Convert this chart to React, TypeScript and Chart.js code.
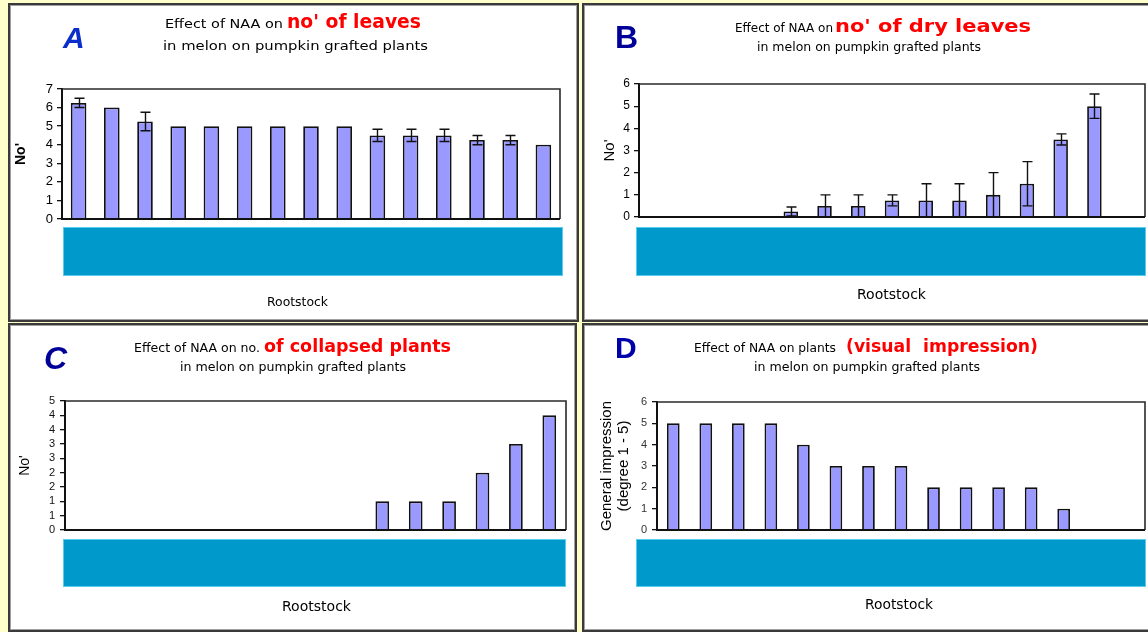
import React, { useEffect, useRef } from "react";
import { Chart, registerables } from "chart.js";

Chart.register(...registerables);

// Fifteen rootstock entries; their names sit under the cyan band and are not shown
const rootstocks = [
  "R1", "R2", "R3", "R4", "R5", "R6", "R7", "R8",
  "R9", "R10", "R11", "R12", "R13", "R14", "R15",
];

// A: number of leaves, mean and +/- error
const leavesMean = [6.25, 6, 5.25, 5, 5, 5, 5, 5, 5, 4.5, 4.5, 4.5, 4.25, 4.25, 4];
const leavesErr = [0.25, 0, 0.5, 0, 0, 0, 0, 0, 0, 0.33, 0.33, 0.33, 0.25, 0.25, 0];

// B: number of dry leaves, mean and +/- error
const dryLeavesMean = [0, 0, 0, 0, 0.25, 0.5, 0.5, 0.75, 0.75, 0.75, 1, 1.5, 3.5, 5, 0];
const dryLeavesErr = [0, 0, 0, 0, 0.2, 0.5, 0.5, 0.25, 0.75, 0.75, 1, 1, 0.25, 0.55, 0];

// C: number of collapsed plants
const collapsedPlants = [0, 0, 0, 0, 0, 0, 0, 0, 0, 1, 1, 1, 2, 3, 4];

// D: general visual impression (degree 1 - 5)
const visualImpression = [5, 5, 5, 5, 4, 3, 3, 3, 2, 2, 2, 2, 1, 0, 0];

// Y-axis ranges: [max, step]
const leavesAxis = [7, 1];
const dryLeavesAxis = [6, 1];
const collapsedAxis = [4.5, 0.5];
const impressionAxis = [6, 1];

type Box = { left: number; top: number; width: number; height: number };
type Area = { left: number; right: number; top: number; bottom: number };

type PanelSpec = {
  id: string;
  box: Box;
  plot: Area;
  values: number[];
  errors?: number[];
  axis: number[];
  yTitle: string | string[];
  yTitleSize: number;
  yTitleBold: boolean;
  yTitleLine: number;
  yTitleX: number;
  tickSize: number;
  tickPad: number;
  tickColor: string;
  roundTicks?: boolean;
  barPercentage: number;
  band: { dl: number; dr: number; gap: number; h: number };
};

const errorBars = {
  id: "errorBars",
  afterDatasetsDraw(chart: any, _args: any, opts: any) {
    const err: number[] | undefined = opts && opts.values;
    if (!err) return;
    const meta = chart.getDatasetMeta(0);
    const y = chart.scales.y;
    const data = chart.data.datasets[0].data as number[];
    const ctx = chart.ctx as CanvasRenderingContext2D;
    ctx.save();
    ctx.strokeStyle = "#111";
    ctx.lineWidth = 1.4;
    meta.data.forEach((bar: any, i: number) => {
      const e = err[i];
      if (!e) return;
      const x = Math.round(bar.x) + 0.5;
      const low = Math.max(0, data[i] - e);
      const top = y.getPixelForValue(data[i] + e);
      const bot = y.getPixelForValue(low);
      ctx.beginPath();
      ctx.moveTo(x, top);
      ctx.lineTo(x, bot);
      ctx.moveTo(x - 5, top);
      ctx.lineTo(x + 5, top);
      if (low > 0) {
        ctx.moveTo(x - 5, bot);
        ctx.lineTo(x + 5, bot);
      }
      ctx.stroke();
    });
    ctx.restore();
  },
};

const frameAndBand = {
  id: "frameAndBand",
  afterDraw(chart: any, _args: any, opts: any) {
    const { left, right, top, bottom } = chart.chartArea;
    const ctx = chart.ctx as CanvasRenderingContext2D;
    ctx.save();
    const bx = left + opts.dl;
    const bw = right + opts.dr - bx;
    const by = bottom + opts.gap;
    ctx.fillStyle = "#0099cc";
    ctx.fillRect(bx, by, bw, opts.h);
    ctx.strokeStyle = "#5ccbf0";
    ctx.lineWidth = 1;
    ctx.strokeRect(bx + 0.5, by + 0.5, bw - 1, opts.h - 1);
    ctx.strokeStyle = "#2a2a2a";
    ctx.lineWidth = 1.6;
    ctx.beginPath();
    ctx.moveTo(left, top);
    ctx.lineTo(right, top);
    ctx.lineTo(right, bottom);
    ctx.stroke();
    ctx.strokeStyle = "#111";
    ctx.lineWidth = 2;
    ctx.beginPath();
    ctx.moveTo(left - 1, bottom);
    ctx.lineTo(right, bottom);
    ctx.stroke();
    ctx.restore();
  },
};

const panels: PanelSpec[] = [
  {
    id: "A",
    box: { left: 8, top: 3, width: 571, height: 319 },
    plot: { left: 62, right: 560, top: 89, bottom: 219 },
    values: leavesMean,
    errors: leavesErr,
    axis: leavesAxis,
    yTitle: "No'",
    yTitleSize: 14,
    yTitleBold: true,
    yTitleLine: 1.2,
    yTitleX: 21,
    tickSize: 13,
    tickPad: 4,
    tickColor: "#000",
    barPercentage: 0.47,
    band: { dl: 1, dr: 3, gap: 8, h: 49 },
  },
  {
    id: "B",
    box: { left: 582, top: 3, width: 570, height: 319 },
    plot: { left: 639, right: 1145, top: 84, bottom: 217 },
    values: dryLeavesMean,
    errors: dryLeavesErr,
    axis: dryLeavesAxis,
    yTitle: "No'",
    yTitleSize: 15,
    yTitleBold: false,
    yTitleLine: 1.2,
    yTitleX: 610,
    tickSize: 12,
    tickPad: 4,
    tickColor: "#000",
    barPercentage: 0.43,
    band: { dl: -3, dr: 1, gap: 10, h: 49 },
  },
  {
    id: "C",
    box: { left: 8, top: 323, width: 569, height: 309 },
    plot: { left: 65, right: 566, top: 401, bottom: 530 },
    values: collapsedPlants,
    axis: collapsedAxis,
    yTitle: "No'",
    yTitleSize: 14,
    yTitleBold: false,
    yTitleLine: 1.2,
    yTitleX: 25,
    tickSize: 11,
    tickPad: 5,
    tickColor: "#111",
    roundTicks: true,
    barPercentage: 0.41,
    band: { dl: -2, dr: 0, gap: 9, h: 48 },
  },
  {
    id: "D",
    box: { left: 582, top: 323, width: 570, height: 309 },
    plot: { left: 657, right: 1145, top: 402, bottom: 530 },
    values: visualImpression,
    axis: impressionAxis,
    yTitle: ["General impression", "(degree 1 - 5)"],
    yTitleSize: 15,
    yTitleBold: false,
    yTitleLine: 1.1,
    yTitleX: 607,
    tickSize: 11,
    tickPad: 5,
    tickColor: "#333",
    barPercentage: 0.39,
    band: { dl: -21, dr: 1, gap: 9, h: 48 },
  },
];

function Panel({ spec }: { spec: PanelSpec }) {
  const ref = useRef<HTMLCanvasElement>(null);
  const innerW = spec.box.width - 4;
  const innerH = spec.box.height - 4;

  useEffect(() => {
    const ox = spec.box.left + 2;
    const oy = spec.box.top + 2;
    const areaL = spec.plot.left - ox;
    const areaR = spec.plot.right - ox;
    const areaT = spec.plot.top - oy;
    const areaB = spec.plot.bottom - oy;
    const halfLine = (spec.yTitleSize * spec.yTitleLine) / 2;
    const axisLeft = spec.yTitleX - ox - halfLine;
    const axisWidth = areaL - axisLeft;

    const chart = new Chart(ref.current as HTMLCanvasElement, {
      type: "bar",
      data: {
        labels: rootstocks,
        datasets: [
          {
            data: spec.values,
            backgroundColor: "#9999ff",
            borderColor: "#111",
            borderWidth: 1.8,
            barPercentage: spec.barPercentage,
            categoryPercentage: 1,
          },
        ],
      },
      options: {
        animation: false,
        responsive: true,
        maintainAspectRatio: false,
        events: [],
        layout: {
          padding: {
            left: axisLeft,
            right: innerW - areaR,
            top: areaT,
            bottom: innerH - areaB,
          },
        },
        plugins: {
          legend: { display: false },
          tooltip: { enabled: false },
          errorBars: { values: spec.errors },
          frameAndBand: spec.band,
        } as any,
        scales: {
          x: { display: false },
          y: {
            min: 0,
            max: spec.axis[0],
            afterFit: (s: any) => {
              s.width = axisWidth;
            },
            ticks: {
              stepSize: spec.axis[1],
              autoSkip: false,
              padding: spec.tickPad,
              color: spec.tickColor,
              font: { family: "'Liberation Sans', Arial, sans-serif", size: spec.tickSize },
              callback: (v: any) => (spec.roundTicks ? String(Math.round(Number(v))) : String(v)),
            },
            grid: {
              drawOnChartArea: false,
              drawTicks: true,
              tickLength: 5,
              color: "#111",
              lineWidth: 1.3,
            },
            border: { display: true, color: "#111", width: 2 },
            title: {
              display: true,
              text: spec.yTitle,
              color: "#000",
              padding: 0,
              font: {
                family: "'Liberation Sans', Arial, sans-serif",
                size: spec.yTitleSize,
                weight: spec.yTitleBold ? "bold" : "normal",
                lineHeight: spec.yTitleLine,
              },
            },
          },
        },
      },
      plugins: [errorBars, frameAndBand],
    });
    return () => chart.destroy();
  }, [spec, innerW, innerH]);

  return (
    <div
      style={{
        position: "absolute",
        left: spec.box.left,
        top: spec.box.top,
        width: spec.box.width,
        height: spec.box.height,
        boxSizing: "border-box",
        border: "2px solid #3a3a3a",
        boxShadow: "inset 0 0 0 1px #a0a0a0",
        background: "#ffffff",
      }}
    >
      <div style={{ position: "absolute", left: 0, top: 0, width: innerW, height: innerH }}>
        <canvas ref={ref} />
      </div>
    </div>
  );
}

type Label = {
  text: string;
  x: number;
  y: number;
  size: number;
  color: string;
  width?: number;
  bold?: boolean;
  italic?: boolean;
  family?: string;
};

const titleFont = "'DejaVu Sans', Verdana, sans-serif";
const red = "#ff0000";

const labels: Label[] = [
  // A
  { text: "A", x: 63, y: 48, size: 30, color: "#0a2ecc", bold: true, italic: true, family: "'Liberation Sans', Arial, sans-serif" },
  { text: "Effect of NAA on", x: 165, y: 28, size: 13, color: "#000", width: 118 },
  { text: "no' of leaves", x: 287, y: 28, size: 20, color: red, bold: true, width: 134 },
  { text: "in melon on pumpkin grafted plants", x: 163, y: 50, size: 13, color: "#000", width: 265 },
  { text: "Rootstock", x: 267, y: 306, size: 13, color: "#000", width: 61 },
  // B
  { text: "B", x: 615, y: 48, size: 32, color: "#000099", bold: true, family: "'Liberation Sans', Arial, sans-serif" },
  { text: "Effect of NAA on", x: 735, y: 32, size: 12, color: "#000", width: 98 },
  { text: "no' of dry leaves", x: 835, y: 32, size: 18, color: red, bold: true, width: 196 },
  { text: "in melon on pumpkin grafted plants", x: 757, y: 51, size: 12, color: "#000", width: 224 },
  { text: "Rootstock", x: 857, y: 299, size: 14, color: "#000", width: 69 },
  // C
  { text: "C", x: 44, y: 369, size: 32, color: "#000099", bold: true, italic: true, family: "'Liberation Sans', Arial, sans-serif" },
  { text: "Effect of NAA on no.", x: 134, y: 352, size: 12, color: "#000", width: 126 },
  { text: "of collapsed plants", x: 264, y: 352, size: 18, color: red, bold: true, width: 187 },
  { text: "in melon on pumpkin grafted plants", x: 180, y: 371, size: 12, color: "#000", width: 226 },
  { text: "Rootstock", x: 282, y: 611, size: 14, color: "#000", width: 69 },
  // D
  { text: "D", x: 615, y: 358, size: 30, color: "#0000aa", bold: true, family: "'Liberation Sans', Arial, sans-serif" },
  { text: "Effect of NAA on plants", x: 694, y: 352, size: 12, color: "#000", width: 142 },
  { text: "(visual  impression)", x: 846, y: 352, size: 18, color: red, bold: true, width: 192 },
  { text: "in melon on pumpkin grafted plants", x: 754, y: 371, size: 12, color: "#000", width: 226 },
  { text: "Rootstock", x: 865, y: 609, size: 14, color: "#000", width: 68 },
];

export default function App() {
  return (
    <div
      style={{
        position: "absolute",
        left: 0,
        top: 0,
        width: 1148,
        height: 632,
        overflow: "hidden",
        background: "#ffffcc",
      }}
    >
      {panels.map((p) => (
        <Panel key={p.id} spec={p} />
      ))}
      <svg
        width={1148}
        height={632}
        style={{ position: "absolute", left: 0, top: 0, pointerEvents: "none" }}
      >
        {labels.map((l, i) => (
          <text
            key={i}
            x={l.x}
            y={l.y}
            fill={l.color}
            fontFamily={l.family || titleFont}
            fontSize={l.size}
            fontWeight={l.bold ? "bold" : "normal"}
            fontStyle={l.italic ? "italic" : "normal"}
            textLength={l.width}
            lengthAdjust={l.width ? "spacingAndGlyphs" : undefined}
            style={{ whiteSpace: "pre" }}
          >
            {l.text}
          </text>
        ))}
      </svg>
    </div>
  );
}
